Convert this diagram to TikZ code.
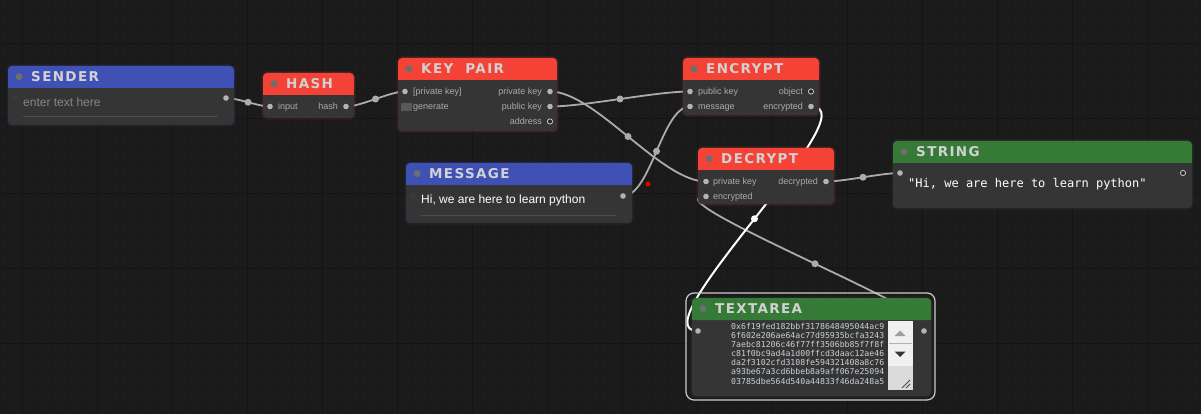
\documentclass[tikz,border=0pt]{standalone}
\usepackage{fontspec}
\setmainfont{Liberation Sans}
\newfontfamily\lgtitlefont[LetterSpace=10]{DejaVu Sans}
\newfontfamily\lgmonofont{DejaVu Sans Mono}
\usetikzlibrary{calc}
\definecolor{bgc}{HTML}{1B1B1B}
\definecolor{gridminor}{HTML}{181818}
\definecolor{gridmajor}{HTML}{141414}
\definecolor{bodyc}{HTML}{353535}
\definecolor{lgred}{HTML}{F44336}
\definecolor{lgblue}{HTML}{3F51B5}
\definecolor{lggreen}{HTML}{367A37}
\definecolor{labelc}{HTML}{ABABAB}
\definecolor{titlec}{HTML}{D2D2D2}
\definecolor{tdot}{HTML}{6E6E6E}
\definecolor{linkc}{HTML}{ABABAB}
\definecolor{slotc}{HTML}{B4B4B4}
\definecolor{tac}{HTML}{C9D0D6}
\tikzset{
  nodebody/.style={fill=bodyc, rounded corners=4, inner sep=0pt, outer sep=0pt, draw=none},
  titletext/.style={text=titlec, inner sep=0pt, font=\lgtitlefont\bfseries\fontsize{13.5}{13.5}\selectfont},
  slotlabel/.style={text=labelc, inner sep=0pt, font=\fontsize{9}{10}\selectfont},
  link/.style={draw=linkc, line width=1.8pt},
  activelink/.style={draw=white, line width=2pt},
  middot/.style={circle, fill=linkc, inner sep=0pt, minimum size=7pt},
  activedot/.style={circle, fill=white, inner sep=0pt, minimum size=7pt},
  slotfull/.style={fill=slotc},
  slotempty/.style={fill=bodyc!70!black, draw=slotc!70, line width=0.8pt},
  slotdark/.style={fill=gray!45!black},
}
% name, x, y, w, h, title colour, title
\newcommand\lgbox[7]{%
  \fill[#6, opacity=0.14, rounded corners=5] ({#2-1.5},{#3-1.5}) rectangle ({#2+#4+1.5},{#3+#5+1.5});
  \node[nodebody, minimum width=#4pt, minimum height=#5pt, anchor=north west] (#1) at (#2,#3) {};
  \fill[#6, rounded corners=4] (#2,#3) rectangle ({#2+#4},{#3+22});
  \fill[#6] (#2,{#3+16}) rectangle ({#2+#4},{#3+22});
  \fill[tdot] ({#2+11},{#3+10.7}) circle (3.5);
  \node[titletext, anchor=base west] (#1-title) at ({#2+23},{#3+15.6}) {#7};
}
% style, from, to, dot style
\newcommand\lglink[4]{%
  \draw[#1] let \p1=(#2), \p2=(#3), \n1={0.25*veclen(\x2-\x1,\y2-\y1)} in
    (#2) .. controls ($(#2)+(\n1,0)$) and ($(#3)-(\n1,0)$) .. (#3) node[#4, pos=0.5] {};
}
\begin{document}
\begin{tikzpicture}[x=1pt,y=-1pt]
\fill[bgc] (0,0) rectangle (1201,414);
\useasboundingbox (0,0) rectangle (1201,414);
% grid
\foreach \i in {0,...,79} {
  \pgfmathsetmacro\gx{7.7+15*\i}
  \draw[gridminor, line width=0.8pt] (\gx,0) -- (\gx,414);
}
\foreach \i in {0,...,27} {
  \pgfmathsetmacro\gy{13.3+15*\i}
  \draw[gridminor, line width=0.8pt] (0,\gy) -- (1201,\gy);
}
\foreach \i in {0,...,16} {
  \pgfmathsetmacro\gx{22.7+75*\i}
  \draw[gridmajor, line width=1pt] (\gx,0) -- (\gx,414);
}
\foreach \i in {0,...,5} {
  \pgfmathsetmacro\gy{43.3+75*\i}
  \draw[gridmajor, line width=1pt] (0,\gy) -- (1201,\gy);
}
% slot positions
\coordinate (sender-in) at (15,98);
\coordinate (sender-out) at (226,98);
\coordinate (hash-in) at (270,106.5);
\coordinate (hash-out) at (346,106.5);
\coordinate (kp-priv-in) at (405,91.5);
\coordinate (kp-priv-out) at (550,91.5);
\coordinate (kp-pub-out) at (550,106.5);
\coordinate (kp-addr-out) at (550,121.5);
\coordinate (enc-pub-in) at (690,91.5);
\coordinate (enc-msg-in) at (690,106.5);
\coordinate (enc-obj-out) at (811,91.5);
\coordinate (enc-enc-out) at (811,106.5);
\coordinate (msg-in) at (413,196);
\coordinate (msg-out) at (623,196);
\coordinate (dec-priv-in) at (706,181.5);
\coordinate (dec-enc-in) at (706,196.5);
\coordinate (dec-out) at (826,181.5);
\coordinate (str-in) at (900,173);
\coordinate (str-out) at (1183,173);
\coordinate (ta-in) at (698,331);
\coordinate (ta-out) at (924,331);
% links (under the nodes)
\lglink{link}{sender-out}{hash-in}{middot}
\lglink{link}{hash-out}{kp-priv-in}{middot}
\lglink{link}{kp-pub-out}{enc-pub-in}{middot}
\lglink{link}{kp-priv-out}{dec-priv-in}{middot}
\lglink{link}{msg-out}{enc-msg-in}{middot}
\lglink{link}{ta-out}{dec-enc-in}{middot}
\lglink{link}{dec-out}{str-in}{middot}
\lglink{activelink}{enc-enc-out}{ta-in}{activedot}
\fill[bgc] (931,305) rectangle (936,390);
% nodes
\lgbox{sender}{8}{66}{226}{59}{lgblue}{SENDER}
\lgbox{hash}{263}{73}{91}{45}{lgred}{HASH}
\lgbox{keypair}{398}{58}{159}{73}{lgred}{KEY\ \ PAIR}
\lgbox{encrypt}{683}{58}{136}{57}{lgred}{ENCRYPT}
\lgbox{message}{406}{163}{226}{60}{lgblue}{MESSAGE}
\lgbox{decrypt}{698}{148}{136}{56}{lgred}{DECRYPT}
\lgbox{string}{893}{141}{299}{67}{lggreen}{STRING}
\lgbox{textarea}{692}{298}{239}{98}{lggreen}{TEXTAREA}
% selection outline of the textarea
\draw[draw=white!80!black, line width=1.2pt, rounded corners=8] (686,293) rectangle (935,400);
% sender widget
\node[anchor=base west, inner sep=0pt, text=white!53!black, font=\fontsize{12}{14}\selectfont] (sender-text) at (23,107) {enter text here};
\draw[black!70, line width=1pt] (23,117) -- (218,117);
% message widget
\node[anchor=base west, inner sep=0pt, text=white, font=\fontsize{12}{14}\selectfont] (msg-text) at (421,204) {Hi, we are here to learn python};
\draw[black!70, line width=1pt] (421,215) -- (616,215);
% string widget
\node[anchor=base west, inner sep=0pt, text=white, font=\lgmonofont\fontsize{12}{14}\selectfont] (str-text) at (908,188) {"Hi, we are here to learn python"};
% slot labels
\node[slotlabel, anchor=base west] at (278,109.7) {input};
\node[slotlabel, anchor=base east] at (338,109.7) {hash};
\node[slotlabel, anchor=base west] at (413,94.7) {[private key]};
\fill[black!28!bodyc!100, fill=gray!70!black] (401,102.7) rectangle (412,110.7);
\node[slotlabel, anchor=base west] at (413,109.7) {generate};
\node[slotlabel, anchor=base east] at (542,94.7) {private key};
\node[slotlabel, anchor=base east] at (542,109.7) {public key};
\node[slotlabel, anchor=base east] at (542,124.7) {address};
\node[slotlabel, anchor=base west] at (698,94.7) {public key};
\node[slotlabel, anchor=base west] at (698,109.7) {message};
\node[slotlabel, anchor=base east] at (803,94.7) {object};
\node[slotlabel, anchor=base east] at (803,109.7) {encrypted};
\node[slotlabel, anchor=base west] at (713,184.7) {private key};
\node[slotlabel, anchor=base west] at (713,199.7) {encrypted};
\node[slotlabel, anchor=base east] at (818,184.7) {decrypted};
% slot dots
\fill[slotdark] (sender-in) circle (3);
\fill[slotdark] (msg-in) circle (3);
\foreach \s in {sender-out, hash-in, hash-out, kp-priv-in, kp-priv-out, kp-pub-out,
  enc-pub-in, enc-msg-in, enc-enc-out, msg-out, dec-priv-in, dec-enc-in, dec-out, str-in, ta-in, ta-out}
  \fill[slotfull] (\s) circle (2.8);
\foreach \s in {kp-addr-out, enc-obj-out, str-out}
  \filldraw[slotempty] (\s) circle (2.6);
% stray red point
\fill[red!90!black] (648,184) circle (2.5);
% textarea content
\begin{scope}[every node/.style={anchor=base west, inner sep=0pt, text=tac, font=\lgmonofont\fontsize{8.2}{9}\selectfont}]
\node (ta-l1) at (731,329) {0x6f19fed182bbf3178648495044ac9};
\node (ta-l2) at (731,338) {6f602e206ae64ac77d95935bcfa3243};
\node (ta-l3) at (731,347) {7aebc81206c46f77ff3506bb85f7f8f};
\node (ta-l4) at (731,356.2) {c81f0bc9ad4a1d00ffcd3daac12ae46};
\node (ta-l5) at (731,365.5) {da2f3102cfd3108fe594321408a8c76};
\node (ta-l6) at (731,374.7) {a93be67a3cd6bbeb8a9aff067e25094};
\node (ta-l7) at (731,384) {03785dbe564d540a44833f46da248a5};
\end{scope}
% scrollbar
\fill[white!94!black] (888,321) rectangle (913,366);
\fill[white!86!black] (888,366) rectangle (913,390);
\draw[white!70!black, line width=0.8pt] (889,343) -- (912,343);
\fill[white!62!black] (894.5,336) -- (905.5,336) -- (900,330.5) -- cycle;
\fill[black!80] (894.5,351.5) -- (905.5,351.5) -- (900,357) -- cycle;
\draw[black!70, line width=0.8pt] (902,388) -- (910,380) (906,388) -- (910,384);
\end{tikzpicture}
\end{document}
